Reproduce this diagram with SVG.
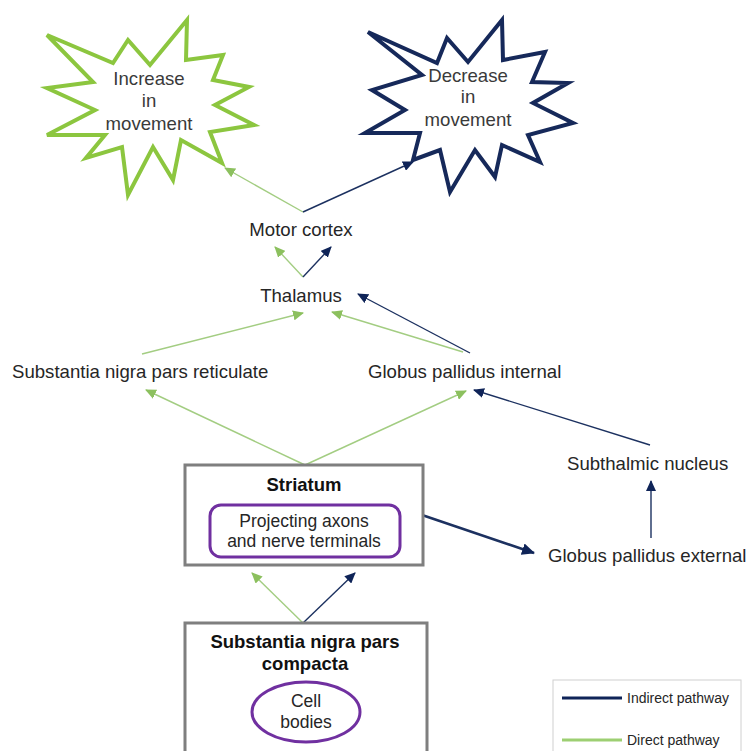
<svg xmlns="http://www.w3.org/2000/svg" width="749" height="751" viewBox="0 0 749 751">
<style>
text{font-family:"Liberation Sans",Arial,sans-serif;fill:#262626}
.t{font-size:18.6px}
.tc{font-size:18.6px;text-anchor:middle}
.s{font-size:17.5px;text-anchor:middle}
.b{font-size:18.5px;font-weight:bold;text-anchor:middle;fill:#111}
.st{font-size:18.6px;text-anchor:middle;fill:#3a3a3a}
.lg{font-size:14px;fill:#262626}
.g{stroke:#a3cd82;stroke-width:1.4;fill:none;marker-end:url(#ag)}
.n{stroke:#1c3160;stroke-width:1.4;fill:none;marker-end:url(#an)}
</style>
<defs>
<marker id="ag" markerUnits="userSpaceOnUse" markerWidth="12" markerHeight="10" refX="10" refY="5" orient="auto"><path d="M0,0 L11,5 L0,10 Z" fill="#8cc05e"/></marker>
<marker id="an" markerUnits="userSpaceOnUse" markerWidth="12" markerHeight="10" refX="10" refY="5" orient="auto"><path d="M0,0 L11,5 L0,10 Z" fill="#0f2458"/></marker>
<marker id="an2" markerUnits="userSpaceOnUse" markerWidth="14" markerHeight="12" refX="12" refY="6" orient="auto"><path d="M0,0 L13,6 L0,12 Z" fill="#0f2458"/></marker>
</defs>
<rect width="749" height="751" fill="#fff"/>
<g id="increase">
<polygon points="47,35 113,63 128,40 150,65 187,20 186,60 223,55 213,80 249,87 215,105 254,125 210,132 222,163 181,140 173,180 153,147 128,195 122,147 86,158 105,135 47,135 95,110 47,88 93,82" fill="#fff" stroke="#8cc63f" stroke-width="4" stroke-linejoin="miter"/>
<text class="st" x="149" y="85">Increase</text>
<text class="st" x="149" y="107">in</text>
<text class="st" x="149" y="130">movement</text>
</g>
<g id="decrease">
<polygon points="368,32 437,63 447,38 468,62 502,20 503,60 545,52 532,82 568,83 533,103 573,123 528,135 540,162 502,145 495,177 475,150 450,192 440,150 413,160 420,133 365,133 405,110 372,90 422,75" fill="#fff" stroke="#16295a" stroke-width="4" stroke-linejoin="miter"/>
<text class="st" x="468" y="82">Decrease</text>
<text class="st" x="468" y="103">in</text>
<text class="st" x="468" y="126">movement</text>
</g>
<g id="connectors">
<line class="g" x1="303" y1="212" x2="225" y2="168"/>
<line class="n" x1="303" y1="212" x2="413" y2="162"/>
<line class="g" x1="303" y1="277" x2="275" y2="247"/>
<line class="n" x1="303" y1="277" x2="331" y2="247"/>
<line class="g" x1="142" y1="354" x2="303" y2="313"/>
<line class="g" x1="463" y1="352" x2="332" y2="312"/>
<line class="n" x1="470" y1="353" x2="358" y2="294"/>
<line class="g" x1="305" y1="465" x2="146" y2="390"/>
<line class="g" x1="305" y1="465" x2="466" y2="391"/>
<line class="n" x1="650" y1="445" x2="474" y2="390"/>
<line class="n" x1="651" y1="538" x2="651" y2="481"/>
<line x1="422" y1="515" x2="534" y2="553" stroke="#1c3160" stroke-width="2.6" marker-end="url(#an2)"/>
<line class="g" x1="303" y1="623" x2="252" y2="573"/>
<line class="n" x1="303" y1="623" x2="355" y2="573"/>
</g>
<g id="motor-cortex"><text class="tc" x="301" y="236">Motor cortex</text></g>
<g id="thalamus"><text class="tc" x="301" y="302">Thalamus</text></g>
<g id="snr"><text class="t" x="12" y="378">Substantia nigra pars reticulate</text></g>
<g id="gpi"><text class="t" x="368" y="378">Globus pallidus internal</text></g>
<g id="stn"><text class="t" x="567" y="470">Subthalmic nucleus</text></g>
<g id="gpe"><text class="t" x="548" y="562">Globus pallidus external</text></g>
<g id="striatum">
<rect x="185" y="465" width="238" height="100" fill="#fff" stroke="#7f7f7f" stroke-width="3"/>
<text class="b" x="304" y="491">Striatum</text>
<rect x="210" y="505" width="190" height="52" rx="11" fill="#fff" stroke="#7030a0" stroke-width="3"/>
<text class="s" x="304" y="527">Projecting axons</text>
<text class="s" x="304" y="547">and nerve terminals</text>
</g>
<g id="snc">
<rect x="185" y="623" width="242" height="140" fill="#fff" stroke="#7f7f7f" stroke-width="3"/>
<text class="b" x="305" y="648">Substantia nigra pars</text>
<text class="b" x="305" y="670">compacta</text>
<ellipse cx="306" cy="712" rx="54" ry="30" fill="#fff" stroke="#7030a0" stroke-width="3"/>
<text class="s" x="306" y="707">Cell</text>
<text class="s" x="306" y="728">bodies</text>
</g>
<g id="legend">
<rect x="553" y="680" width="188" height="80" fill="#fff" stroke="#d0d0d0" stroke-width="1"/>
<line x1="562" y1="698" x2="622" y2="698" stroke="#0f2458" stroke-width="3"/>
<text class="lg" x="627" y="703">Indirect pathway</text>
<line x1="562" y1="740" x2="622" y2="740" stroke="#9dcf72" stroke-width="3"/>
<text class="lg" x="627" y="745">Direct pathway</text>
</g>
</svg>
